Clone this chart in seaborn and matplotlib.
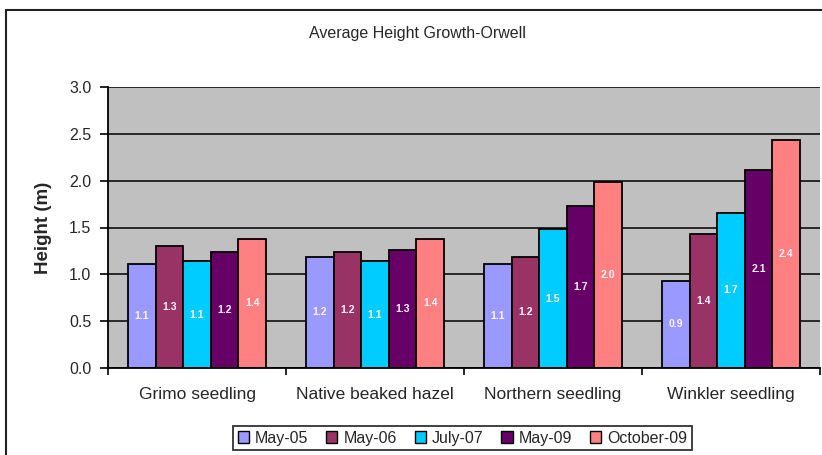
import matplotlib
matplotlib.use("Agg")
import matplotlib.pyplot as plt
from matplotlib.patches import Rectangle
from matplotlib.ticker import FixedLocator, MultipleLocator
import pandas as pd
import seaborn as sns

# Average heights (m) per planting type and survey date
categories = ["Grimo seedling", "Native beaked hazel", "Northern seedling", "Winkler seedling"]
periods = ["May-05", "May-06", "July-07", "May-09", "October-09"]
may_05 = [1.11, 1.19, 1.11, 0.93]
may_06 = [1.30, 1.24, 1.19, 1.43]
july_07 = [1.14, 1.14, 1.48, 1.66]
may_09 = [1.24, 1.26, 1.73, 2.11]
october_09 = [1.38, 1.38, 1.99, 2.43]
colors = ["#9999FF", "#993366", "#00CCFF", "#660066", "#FF8080"]

series = [may_05, may_06, july_07, may_09, october_09]
df = pd.DataFrame(
    [(cat, per, vals[i]) for per, vals in zip(periods, series) for i, cat in enumerate(categories)],
    columns=["category", "period", "height"],
)

sns.set_theme(style="white")
plt.rcParams["font.family"] = ["Liberation Sans", "DejaVu Sans"]

fig = plt.figure(figsize=(8.22, 4.55), dpi=100)
fig.patch.set_facecolor("white")
ax = fig.add_axes([0.1314, 0.1912, 0.8662, 0.6176])
ax.set_facecolor("#C0C0C0")

sns.barplot(
    data=df, x="category", y="height", hue="period",
    order=categories, hue_order=periods, palette=colors, saturation=1,
    width=0.775, edgecolor="black", linewidth=1.3, ax=ax,
    errorbar=None, legend=False,
)

# value labels centred inside each bar
for container in ax.containers:
    ax.bar_label(container, fmt="{:.1f}", label_type="center",
                 color="#FFF2FF", fontsize=7.5, fontweight="bold")

ax.set_ylim(0, 3.0)
ax.set_xlim(-0.5, len(categories) - 0.5)
ax.yaxis.set_major_locator(MultipleLocator(0.5))
ax.yaxis.set_major_formatter(matplotlib.ticker.FormatStrFormatter("%.1f"))
ax.yaxis.grid(True, color="black", linewidth=1.1)
ax.set_axisbelow(True)

ax.set_xticks(range(len(categories)))
ax.set_xticklabels(categories)
ax.xaxis.set_minor_locator(FixedLocator([i - 0.5 for i in range(len(categories) + 1)]))
ax.tick_params(axis="x", which="major", length=0, pad=14, labelsize=12.5)
ax.tick_params(axis="x", which="minor", length=5, width=1.2, direction="out", color="black", bottom=True)
ax.tick_params(axis="y", length=6, width=1.2, direction="out", color="black", left=True, labelsize=11.5, pad=6)

for side in ["top", "right"]:
    ax.spines[side].set_visible(False)
for side in ["left", "bottom"]:
    ax.spines[side].set_visible(True)
    ax.spines[side].set_color("black")
    ax.spines[side].set_linewidth(1.3)

ax.set_xlabel("")
ax.set_ylabel("Height (m)", fontsize=13.5, fontweight="bold", labelpad=12)

fig.text(0.508, 0.927, "Average Height Growth-Orwell", ha="center", va="center", fontsize=11.5)

handles = [Rectangle((0, 0), 1, 1, facecolor=c, edgecolor="black", linewidth=1.0) for c in colors]
leg = fig.legend(handles, periods, loc="center", bbox_to_anchor=(0.5627, 0.037), ncol=5,
                 frameon=True, fontsize=11.5, handlelength=0.7, handleheight=0.7,
                 handletextpad=0.4, columnspacing=1.1, borderpad=0.3, fancybox=False)
leg.get_frame().set_edgecolor("black")
leg.get_frame().set_linewidth(1.3)

# outer chart border
fig.patches.append(Rectangle((0.007, -0.05), 1.05, 1.028, transform=fig.transFigure,
                             fill=False, edgecolor="#222222", linewidth=1.5))

fig.savefig("out.png", dpi=100)
